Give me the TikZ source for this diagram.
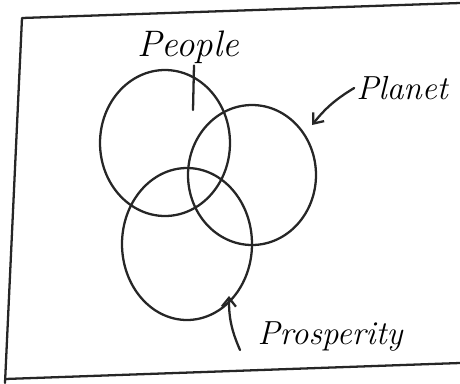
\documentclass[tikz,border=0pt]{standalone}
\usepackage{tikz}
\usetikzlibrary{shapes.geometric, arrows.meta, positioning, calc}

\begin{document}
\begin{tikzpicture}[
  x=0.02cm, y=-0.02cm,
  pen/.style        = {line width=1.3pt, color=black!85, line cap=round, line join=round},
  ringPEOPLE/.style = {ellipse, pen, draw, minimum width=2.6cm, minimum height=2.92cm, inner sep=0pt},
  ringPLANET/.style = {ellipse, pen, draw, minimum width=2.56cm, minimum height=2.8cm, inner sep=0pt},
  ringPROSP/.style  = {ellipse, pen, draw, minimum width=2.6cm, minimum height=3.04cm, inner sep=0pt},
  word/.style       = {font=\fontsize{19}{22}\selectfont\itshape, inner sep=1pt},
  arr/.style        = {pen, -{Straight Barb[length=5pt, width=8pt]}},
]
\useasboundingbox (0,0) rectangle (460,383);

%% Frame
\draw[pen] (460,3) -- (22,18) -- (5,383);
\draw[pen] (5,379) -- (460,363);

%% Rings
\node[ringPEOPLE] (people) at (165,143) {};
\node[ringPLANET] (planet) at (252,175) {};
\node[ringPROSP]  (prosp)  at (187,244) {};

%% Labels
\node[word, font=\fontsize{21}{24}\selectfont\itshape] (lpeople) at (188,47) {People};
\node[word] (lplanet) at (402,88)  {Planet};
\node[word] (lprosp)  at (330,336) {Prosperity};

%% Pointers
\coordinate (speople) at ($(lpeople.south)+(6,0)$);
\coordinate (tpeople) at (193,110);
\coordinate (tplanet) at (312,125);
\coordinate (sprosp)  at (240,350);
\coordinate (tprosp)  at (229,296);
\draw[pen] (speople) -- (tpeople);
\draw[arr] (lplanet.west) to[bend right=10] (tplanet);
\draw[arr] (sprosp) to[bend left=12] (tprosp);

\end{tikzpicture}
\end{document}
